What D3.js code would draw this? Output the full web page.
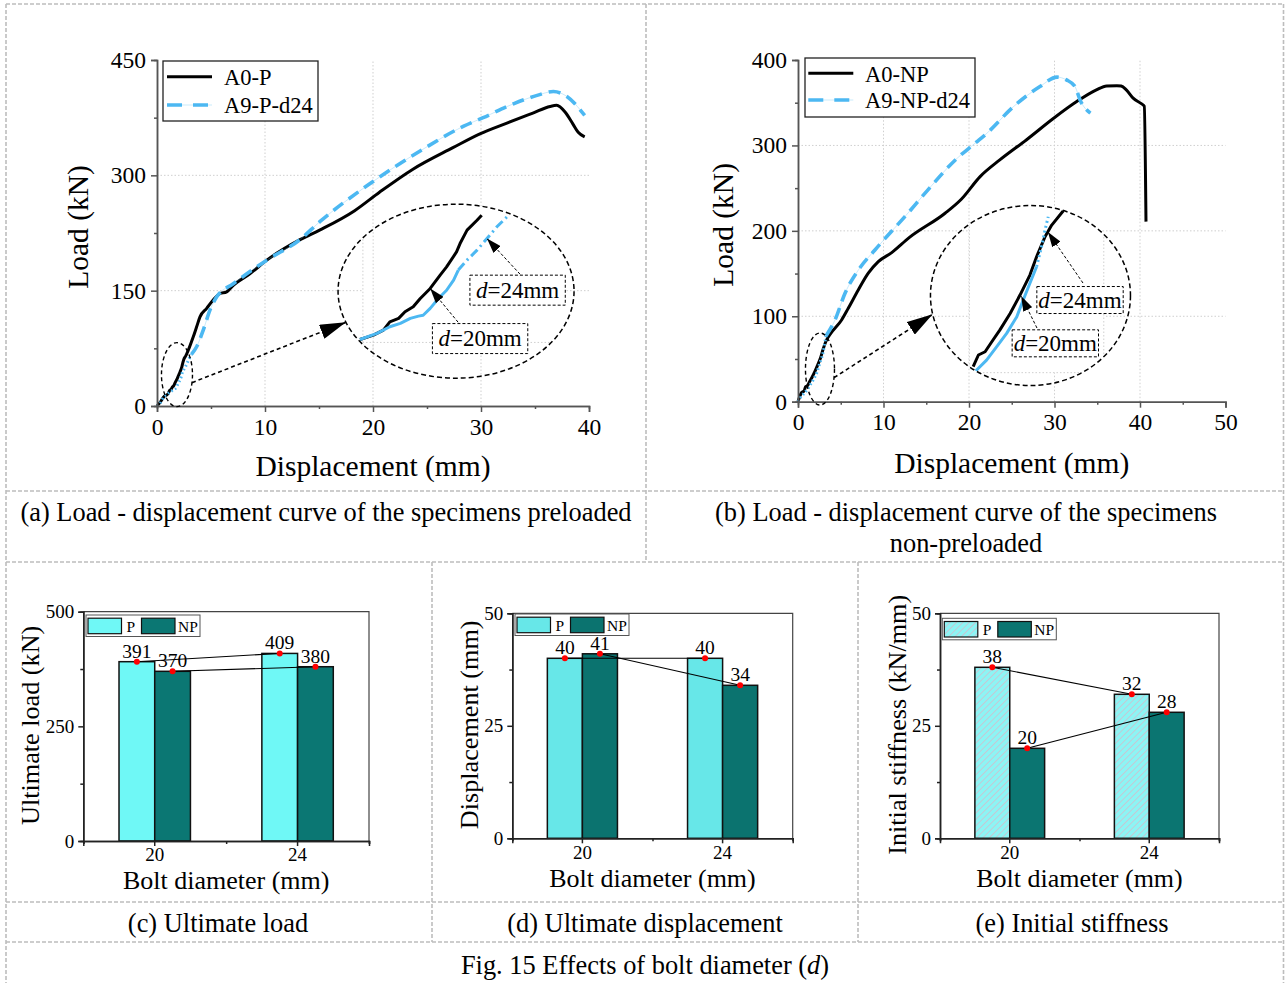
<!DOCTYPE html>
<html>
<head>
<meta charset="utf-8">
<script src="https://cdn.jsdelivr.net/npm/d3@7/dist/d3.min.js"></script>
<style>
html,body{margin:0;padding:0;background:#fff;}
svg{display:block;}
</style>
</head>
<body>
<svg id="fig" width="1285" height="983"></svg>
<script>
// ---------------- data ----------------
// Load–displacement curves: [displacement (mm), load (kN)]
const curveA0P = [
  [0,0],[0.3,5],[0.65,12.3],[0.88,14.2],[1.05,16.4],[1.16,20.1],[1.31,21.6],[1.42,24.5],[1.56,26.7],
  [1.68,30.4],[1.85,34.8],[2.02,40.7],[2.13,44.3],[2.30,50.9],[2.36,54.6],[2.48,60.5],[2.65,64.9],
  [2.73,67.1],[3.36,90],[3.67,103],[3.98,116],[4.6,127],[5.2,138],[5.8,146],[6.45,148.4],[7.06,157],
  [8.6,172],[10.2,190],[13.2,216],[15.1,229],[18.3,254],[20.6,278],[23.7,308],[27.4,336],[29.9,354],
  [32.4,368],[34.8,381],[36.4,389.6],[37.0,391],[37.8,382],[38.5,367],[39.0,356],[39.6,350]
];
const curveA9Pd24 = [
  [0,0],[0.3,4],[0.65,12.3],[0.94,15.0],[1.16,17.9],[1.34,19.4],[1.51,21.6],[1.65,22.6],[1.73,23.0],
  [1.85,26.0],[1.99,30.4],[2.13,34.0],[2.25,38.5],[2.33,42.9],[2.48,47.3],[2.65,51.7],[2.82,56.8],
  [2.99,62.0],[3.19,67.1],[3.67,77],[4.29,99],[4.91,125],[5.53,142],[7.06,159],[10.2,190],[13.2,216],
  [15.1,240],[19.7,289],[24.4,332],[28.4,364],[30.2,375],[33.0,393],[35.2,404],[36.7,409],[37.8,404],
  [39.6,378]
];
const curveA0NP = [
  [0,0],[0.2,6],[0.45,11],[0.71,12.6],[0.89,17.6],[1.12,19.0],[1.35,23.3],[1.63,28.4],[1.98,35.5],
  [2.32,43.4],[2.66,52.0],[2.89,59.9],[3.18,68.5],[3.41,73.5],[3.81,79.7],[5.1,95.7],[5.88,109.4],
  [7.05,130.8],[8.22,150.4],[9.39,164],[10.96,174.5],[13.0,192],[17.2,220.6],[19.1,237],
  [21.3,263.5],[23.6,283],[26.7,306.4],[29.9,331.8],[32.6,351.3],[34.9,365],[36.1,369.7],[37.3,370],
  [37.8,369.5],[38.4,365],[39.2,355.3],[40.2,348.6],[40.5,346],[40.7,210.8]
];
const curveA9NPd24 = [
  [0,0],[0.3,5],[0.77,10.4],[1.17,15.4],[1.52,21.2],[1.86,26.9],[2.21,34.1],[2.43,41.3],[2.66,48.5],
  [2.89,55.6],[3.06,64.2],[3.18,71.4],[3.29,77.1],[4.33,95.7],[5.5,127],[7.05,154],[9.0,177.6],
  [10,189],[12.5,216.6],[15.2,248],[18.4,283],[20.7,302.5],[22.1,314.3],[25.2,345.4],[28.3,368.9],
  [30.3,380],[31.4,376.7],[32.4,368.9],[33.0,353],[34.2,337.7]
];

const ticksAX = [0,10,20,30,40];
const ticksAY = [0,150,300,450];
const ticksBX = [0,10,20,30,40,50];
const ticksBY = [0,100,200,300,400];

// Bar charts
const boltDiameters = ["20","24"];
const groups = ["P","NP"];
const ultimateLoadP  = [391,409];
const ultimateLoadNP = [370,380];
const ultimateDispP  = [40,40];
const ultimateDispNP = [41,34];
const initStiffP  = [38,32];
const initStiffNP = [20,28];
const loadTicks  = [0,250,500];
const dispTicks  = [0,25,50];
const stiffTicks = [0,25,50];

// ---------------- setup ----------------
const FONT = "'Liberation Serif','Times New Roman',serif";
const BLUE = "#4cb8f2";
const svg = d3.select("#fig");
const defs = svg.append("defs");

function addMarker(id, len, wid){
  defs.append("marker").attr("id", id)
    .attr("viewBox","0 0 10 10").attr("refX",10).attr("refY",5)
    .attr("markerWidth",len).attr("markerHeight",wid)
    .attr("markerUnits","userSpaceOnUse").attr("orient","auto")
    .attr("preserveAspectRatio","none")
    .append("path").attr("d","M0,0L10,5L0,10Z").attr("fill","#000");
}
addMarker("head-big",26,15);
addMarker("head-small",15,10);

const hatch = defs.append("pattern").attr("id","hatchP")
  .attr("patternUnits","userSpaceOnUse").attr("width",4.5).attr("height",4.5)
  .attr("patternTransform","rotate(45)");
hatch.append("rect").attr("width",4.5).attr("height",4.5).attr("fill","#8df4f4");
hatch.append("line").attr("x1",0).attr("y1",0).attr("x2",0).attr("y2",4.5)
  .attr("stroke","#d8b9c9").attr("stroke-width",1.4);

function txt(g, x, y, s, size, anchor){
  return g.append("text").attr("x",x).attr("y",y).text(s)
    .attr("font-family",FONT).attr("font-size",size)
    .attr("text-anchor",anchor||"middle").attr("fill","#000");
}
function styleAxis(sel, size){
  sel.attr("font-family",FONT);
  sel.select(".domain").attr("stroke","#555").attr("stroke-width",1.5);
  sel.selectAll(".tick line").attr("stroke","#555").attr("stroke-width",1.5);
  sel.selectAll(".tick text").attr("font-family",FONT).attr("font-size",size).attr("fill","#000");
}
function midpoints(arr){ return arr.slice(0,-1).map((d,i)=>(d+arr[i+1])/2); }

// ---------------- table frame ----------------
const frame = svg.append("g").attr("stroke","#bdbdbd").attr("stroke-width",1.6)
  .attr("stroke-dasharray","4,2").attr("fill","none");
[[6,4,1284,4],[6,4,6,983],[1283.5,4,1283.5,983],[646,4,646,562],
 [6,491,1284,491],[6,562,1284,562],[432,562,432,942],[858,562,858,942],
 [6,902,1284,902],[6,942,1284,942]].forEach(s=>{
  frame.append("line").attr("x1",s[0]).attr("y1",s[1]).attr("x2",s[2]).attr("y2",s[3]);
});

// ---------------- load–displacement charts ----------------
function lineChart(o){
  const g = svg.append("g");
  const x = d3.scaleLinear().domain([o.xTicks[0], o.xTicks[o.xTicks.length-1]]).range([o.left,o.right]);
  const y = d3.scaleLinear().domain([o.yTicks[0], o.yTicks[o.yTicks.length-1]]).range([o.bottom,o.top]);

  // dotted grid
  const grid = g.append("g").attr("stroke","#cfcfcf").attr("stroke-width",1).attr("stroke-dasharray","1.5,2");
  grid.selectAll(".gx").data(o.xTicks.slice(1,-1)).join("line")
    .attr("x1",d=>x(d)).attr("x2",d=>x(d)).attr("y1",o.bottom).attr("y2",o.top);
  grid.selectAll(".gy").data(o.yTicks.slice(1,-1)).join("line")
    .attr("y1",d=>y(d)).attr("y2",d=>y(d)).attr("x1",o.left).attr("x2",o.right);

  // curves
  const line = d3.line().x(d=>x(d[0])).y(d=>y(d[1])).curve(d3.curveMonotoneX);
  g.append("path").datum(o.black).attr("d",line).attr("fill","none")
    .attr("stroke","#000").attr("stroke-width",3).attr("stroke-linejoin","round");
  const k = o.blue.findIndex(d=>d[0] > o.dotLimit);
  g.append("path").datum(o.blue.slice(0,k)).attr("d",line).attr("fill","none")
    .attr("stroke",BLUE).attr("stroke-width",3).attr("stroke-dasharray","1.6,2.6");
  g.append("path").datum(o.blue.slice(k-1)).attr("d",line).attr("fill","none")
    .attr("stroke",BLUE).attr("stroke-width",1).attr("stroke-opacity",0.3);
  g.append("path").datum(o.blue.slice(k-1)).attr("d",line).attr("fill","none")
    .attr("stroke",BLUE).attr("stroke-width",3.6).attr("stroke-dasharray","12,7");

  // axes
  const gxMinor = g.append("g").attr("transform",`translate(0,${o.bottom})`)
    .call(d3.axisBottom(x).tickValues(midpoints(o.xTicks)).tickSize(3).tickFormat(""));
  const gx = g.append("g").attr("transform",`translate(0,${o.bottom})`)
    .call(d3.axisBottom(x).tickValues(o.xTicks).tickSize(6).tickPadding(6).tickFormat(d3.format("d")));
  const gyMinor = g.append("g").attr("transform",`translate(${o.left},0)`)
    .call(d3.axisLeft(y).tickValues(midpoints(o.yTicks)).tickSize(3).tickFormat(""));
  const gy = g.append("g").attr("transform",`translate(${o.left},0)`)
    .call(d3.axisLeft(y).tickValues(o.yTicks).tickSize(6).tickPadding(5).tickFormat(d3.format("d")));
  [gxMinor,gx,gyMinor,gy].forEach(a=>styleAxis(a,23.5));

  // axis titles
  txt(g,(o.left+o.right)/2,o.xTitleY,"Displacement (mm)",29.5);
  txt(g,0,0,"Load (kN)",29.5).attr("transform",`translate(${o.yTitleX},${(o.top+o.bottom)/2-6}) rotate(-90)`);

  // legend
  const L = o.legend;
  const lx = o.left+L.dx, ly = o.top+L.dy;
  g.append("rect").attr("x",lx).attr("y",ly).attr("width",L.w).attr("height",L.h)
    .attr("fill","#fff").attr("stroke","#222").attr("stroke-width",1.3);
  g.append("line").attr("x1",lx+L.lx0).attr("x2",lx+L.lx1).attr("y1",ly+L.rows[0]).attr("y2",ly+L.rows[0])
    .attr("stroke","#000").attr("stroke-width",3);
  g.append("line").attr("x1",lx+L.lx0).attr("x2",lx+L.lx1).attr("y1",ly+L.rows[1]).attr("y2",ly+L.rows[1])
    .attr("stroke",BLUE).attr("stroke-width",1).attr("stroke-opacity",0.3);
  g.append("line").attr("x1",lx+L.lx0).attr("x2",lx+L.lx1).attr("y1",ly+L.rows[1]).attr("y2",ly+L.rows[1])
    .attr("stroke",BLUE).attr("stroke-width",3.6).attr("stroke-dasharray","15,11");
  o.names.forEach((n,i)=>txt(g,lx+L.tx,ly+L.rows[i]+8.3,n,22.5,"start"));

  // small highlight ellipse
  const S = o.small;
  const scx = x(S.c[0]), scy = y(S.c[1]);
  g.append("ellipse").attr("cx",scx).attr("cy",scy).attr("rx",S.rx).attr("ry",S.ry)
    .attr("fill","none").attr("stroke","#000").attr("stroke-width",1.4).attr("stroke-dasharray","4,3");

  // inset
  const I = o.inset;
  const icx = x(I.c[0]), icy = y(I.c[1]);
  const xi = d3.scaleLinear().domain(I.xDomain).range([icx+I.xRange[0], icx+I.xRange[1]]);
  const yi = d3.scaleLinear().domain(I.yDomain).range([icy+I.yRange[0], icy+I.yRange[1]]);
  const clipId = o.id+"-clip";
  defs.append("clipPath").attr("id",clipId).append("ellipse")
    .attr("cx",icx).attr("cy",icy).attr("rx",I.rx).attr("ry",I.ry);
  const ig = g.append("g").attr("clip-path",`url(#${clipId})`);
  ig.append("rect").attr("x",xi(I.bg[0])).attr("y",yi(I.bg[3]))
    .attr("width",xi(I.bg[1])-xi(I.bg[0])).attr("height",yi(I.bg[2])-yi(I.bg[3])).attr("fill","#fff");
  const igrid = ig.append("g").attr("stroke","#cfcfcf").attr("stroke-width",1).attr("stroke-dasharray","1.5,2");
  I.gridX.forEach(v=>igrid.append("line").attr("x1",xi(v)).attr("x2",xi(v)).attr("y1",icy-I.ry).attr("y2",icy+I.ry));
  I.gridY.forEach(v=>igrid.append("line").attr("y1",yi(v)).attr("y2",yi(v)).attr("x1",icx-I.rx).attr("x2",icx+I.rx));
  const iline = d3.line().x(d=>xi(d[0])).y(d=>yi(d[1]));
  const inDom = d=>d[0]>=I.xDomain[0] && d[0]<=I.xDomain[1];
  ig.append("path").datum(o.black.filter(inDom)).attr("d",iline).attr("fill","none")
    .attr("stroke","#000").attr("stroke-width",3).attr("stroke-linejoin","round");
  const bIn = o.blue.filter(inDom);
  const j = bIn.findIndex(d=>d[0] > I.blueSolidMax);
  ig.append("path").datum(bIn.slice(0,j)).attr("d",iline).attr("fill","none")
    .attr("stroke",BLUE).attr("stroke-width",3).attr("stroke-linejoin","round");
  ig.append("path").datum(bIn.slice(j-1)).attr("d",iline).attr("fill","none")
    .attr("stroke",BLUE).attr("stroke-width",3).attr("stroke-dasharray",I.blueDash);
  g.append("ellipse").attr("cx",icx).attr("cy",icy).attr("rx",I.rx).attr("ry",I.ry)
    .attr("fill","none").attr("stroke","#000").attr("stroke-width",1.5).attr("stroke-dasharray","5,3");

  // pointer from the highlight to the inset
  const rad = Math.PI/180;
  g.append("line")
    .attr("x1",scx+S.rx*Math.cos(S.tailDeg*rad)).attr("y1",scy+S.ry*Math.sin(S.tailDeg*rad))
    .attr("x2",icx+I.rx*Math.cos(I.tipDeg*rad)).attr("y2",icy+I.ry*Math.sin(I.tipDeg*rad))
    .attr("stroke","#000").attr("stroke-width",1.6).attr("stroke-dasharray","4,3")
    .attr("marker-end","url(#head-big)");

  // diameter annotations
  I.ann.forEach(a=>{
    const t = g.append("text").attr("x",icx+a.txt[0]).attr("y",icy+a.txt[1]+7.5)
      .attr("font-family",FONT).attr("font-size",I.annSize).attr("text-anchor","middle").attr("fill","#000");
    t.append("tspan").attr("font-style","italic").text("d");
    t.append("tspan").text("="+a.label);
    const bb = t.node().getBBox();
    g.insert("rect", () => t.node())
      .attr("x",bb.x-I.padX).attr("y",bb.y-I.padY)
      .attr("width",bb.width+2*I.padX).attr("height",bb.height+2*I.padY)
      .attr("fill","#fff").attr("stroke","#000").attr("stroke-width",1).attr("stroke-dasharray","3,2");
    g.append("line").attr("x1",icx+a.tail[0]).attr("y1",icy+a.tail[1])
      .attr("x2",xi(a.tip[0])).attr("y2",yi(a.tip[1]))
      .attr("stroke","#000").attr("stroke-width",1).attr("stroke-dasharray","3,2")
      .attr("marker-end","url(#head-small)");
  });
  return {x,y};
}

lineChart({
  id:"pa", left:157, right:589, top:60, bottom:406,
  xTicks:ticksAX, yTicks:ticksAY,
  black:curveA0P, blue:curveA9Pd24, dotLimit:3.2,
  names:["A0-P","A9-P-d24"],
  legend:{dx:6, dy:1, w:155, h:60, rows:[15.7,44], lx0:4, lx1:49, tx:61},
  xTitleY:476, yTitleX:88,
  small:{c:[1.85,40.8], rx:15.5, ry:32, tailDeg:14.5},
  inset:{c:[27.69,149.35], rx:118, ry:87, tipDeg:159,
    xDomain:[0.6,3.3], xRange:[-99,59], yDomain:[12,68], yRange:[49,-78],
    bg:[0.7,4.14,11,74], gridX:[0.7,0.875], gridY:[11],
    blueSolidMax:2.4, blueDash:"9,4,2,4", padX:6, padY:2.5, annSize:23,
    ann:[{label:"24mm", tip:[2.82,56.8], txt:[61.5,-1], tail:[64,-17]},
         {label:"20mm", tip:[1.85,34.8], txt:[24,47.4], tail:[2,31]}]}
});

lineChart({
  id:"pb", left:798, right:1225.5, top:60, bottom:401.7,
  xTicks:ticksBX, yTicks:ticksBY,
  black:curveA0NP, blue:curveA9NPd24, dotLimit:3.74,
  names:["A0-NP","A9-NP-d24"],
  legend:{dx:7, dy:-2, w:170, h:59, rows:[15.3,42], lx0:3.3, lx1:48.3, tx:60},
  xTitleY:473, yTitleX:733,
  small:{c:[2.57,38.3], rx:14.5, ry:36, tailDeg:14},
  inset:{c:[27.19,124.3], rx:100, ry:90, tipDeg:168,
    xDomain:[0.6,3.9], xRange:[-60.5,35.5], yDomain:[12,80], yRange:[72.5,-85.5],
    bg:[0.58,5.2,10,86], gridX:[0.58,5.2], gridY:[10],
    blueSolidMax:3.0, blueDash:"2,3", padX:1.5, padY:1, annSize:23,
    ann:[{label:"24mm", tip:[3.28,70.5], txt:[49.5,4.5], tail:[52.5,-12.5]},
         {label:"20mm", tip:[2.36,43], txt:[24.8,47.8], tail:[6.5,32.5]}]}
});

// captions of the upper row
const cap = svg.append("g");
txt(cap,326,521,"(a) Load - displacement curve of the specimens preloaded",26.4);
txt(cap,966,521,"(b) Load - displacement curve of the specimens",26.4);
txt(cap,966,552,"non-preloaded",26.4);

// ---------------- bar charts ----------------
function barChart(o){
  const g = svg.append("g");
  const x0 = d3.scaleBand().domain(boltDiameters).range([o.left,o.right]).paddingInner(0.5).paddingOuter(0.25);
  const x1 = d3.scaleBand().domain(groups).range([0,x0.bandwidth()]);
  const y = d3.scaleLinear().domain([o.ticks[0],o.ticks[o.ticks.length-1]]).range([o.bottom,o.top]);
  const xl = d3.scaleLinear().domain([0,1]).range([o.left,o.right]);

  // top / right frame
  g.append("path").attr("d",`M${o.left},${o.top}H${o.right}V${o.bottom}`)
    .attr("fill","none").attr("stroke","#444").attr("stroke-width",1.2);

  const series = [
    {key:"P",  vals:o.p,  fill:o.pFill},
    {key:"NP", vals:o.np, fill:o.npFill}
  ];
  const cx = (s,i)=>x0(boltDiameters[i])+x1(s.key)+x1.bandwidth()/2;

  // bars
  series.forEach(s=>{
    g.append("g").selectAll("rect").data(s.vals).join("rect")
      .attr("x",(d,i)=>x0(boltDiameters[i])+x1(s.key))
      .attr("y",d=>y(d)).attr("width",x1.bandwidth()).attr("height",d=>y(0)-y(d))
      .attr("fill",s.fill).attr("stroke","#111").attr("stroke-width",1.5);
  });
  // trend lines between diameters
  series.forEach(s=>{
    g.append("path").datum(s.vals)
      .attr("d",d3.line().x((d,i)=>cx(s,i)).y(d=>y(d)))
      .attr("fill","none").attr("stroke","#000").attr("stroke-width",1.1);
  });
  // markers and values
  series.forEach(s=>{
    g.append("g").selectAll("circle").data(s.vals).join("circle")
      .attr("cx",(d,i)=>cx(s,i)).attr("cy",d=>y(d)).attr("r",3).attr("fill","#f00");
    g.append("g").selectAll("text").data(s.vals).join("text")
      .attr("x",(d,i)=>cx(s,i)).attr("y",d=>y(d)-4).text(d=>d)
      .attr("font-family",FONT).attr("font-size",19.5).attr("text-anchor","middle").attr("fill","#000");
  });

  // axes
  const gxm = g.append("g").attr("transform",`translate(0,${o.bottom})`)
    .call(d3.axisBottom(xl).tickValues([0,0.5,1]).tickSize(3).tickFormat(""));
  const gx = g.append("g").attr("transform",`translate(0,${o.bottom})`)
    .call(d3.axisBottom(x0).tickSize(5).tickPadding(2));
  const gym = g.append("g").attr("transform",`translate(${o.left},0)`)
    .call(d3.axisLeft(y).tickValues(midpoints(o.ticks)).tickSize(3).tickFormat(""));
  const gy = g.append("g").attr("transform",`translate(${o.left},0)`)
    .call(d3.axisLeft(y).tickValues(o.ticks).tickSize(5).tickPadding(4));
  [gxm,gx,gym,gy].forEach(a=>styleAxis(a,19));
  [gxm,gx,gym,gy].forEach(a=>{
    a.select(".domain").attr("stroke","#222");
    a.selectAll(".tick line").attr("stroke","#222");
  });

  txt(g,(o.left+o.right)/2,o.xTitleY,"Bolt diameter (mm)",26);
  txt(g,0,0,o.yTitle,26.2).attr("transform",`translate(${o.yTitleX},${(o.top+o.bottom)/2-1}) rotate(-90)`);

  // legend
  const lx = o.left+o.legDx, ly = o.top+o.legDy;
  g.append("rect").attr("x",lx).attr("y",ly).attr("width",114).attr("height",21.5)
    .attr("fill","#fff").attr("stroke","#555").attr("stroke-width",1);
  const sw = [{fill:o.pFill, sx:2, tx:40.5, name:groups[0]},{fill:o.npFill, sx:55.5, tx:92, name:groups[1]}];
  sw.forEach(s=>{
    g.append("rect").attr("x",lx+s.sx).attr("y",ly+3.2).attr("width",33.5).attr("height",15.5)
      .attr("fill",s.fill).attr("stroke","#111").attr("stroke-width",1.2);
    txt(g,lx+s.tx,ly+16.6,s.name,15.5,"start");
  });
}

barChart({left:83.3, right:369, top:611.7, bottom:841, ticks:loadTicks,
  p:ultimateLoadP, np:ultimateLoadNP, pFill:"#6ff8f6", npFill:"#0b7773",
  yTitle:"Ultimate load (kN)", yTitleX:39, xTitleY:889, legDx:2.7, legDy:3.3});
barChart({left:512.3, right:792.7, top:613.3, bottom:838.3, ticks:dispTicks,
  p:ultimateDispP, np:ultimateDispNP, pFill:"#67e7e8", npFill:"#0b736f",
  yTitle:"Displacement (mm)", yTitleX:478, xTitleY:887, legDx:2.7, legDy:0.7});
barChart({left:940, right:1219, top:613.3, bottom:838.3, ticks:stiffTicks,
  p:initStiffP, np:initStiffNP, pFill:"url(#hatchP)", npFill:"#0b7571",
  yTitle:"Initial stiffness (kN/mm)", yTitleX:906, xTitleY:887, legDx:2.3, legDy:5});

// captions of the lower row
const cap2 = svg.append("g");
txt(cap2,218,932,"(c) Ultimate load",26.4);
txt(cap2,645,932,"(d) Ultimate displacement",26.4);
txt(cap2,1072,932,"(e) Initial stiffness",26.4);
const fig = txt(cap2,645,974,"",26.4);
fig.append("tspan").text("Fig. 15 Effects of bolt diameter (");
fig.append("tspan").attr("font-style","italic").text("d");
fig.append("tspan").text(")");
</script>
</body>
</html>
